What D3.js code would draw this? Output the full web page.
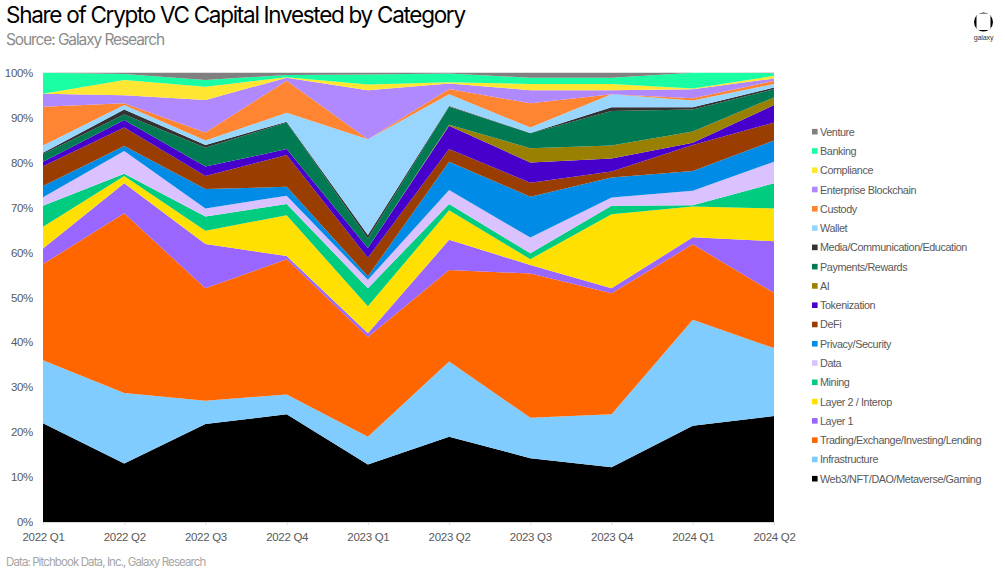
<!DOCTYPE html>
<html>
<head>
<meta charset="utf-8">
<script src="https://cdn.jsdelivr.net/npm/d3@7"></script>
<style>
	html, body { margin: 0; padding: 0; background: #fff; }
	svg { display: block; }
	text { font-family: "Liberation Sans", Arial, sans-serif; }
	.title { font-family: Inter, sans-serif; font-size: 22.5px; letter-spacing: -1.29px; fill: #000; }
	.subtitle { font-family: Inter, sans-serif; font-size: 15.5px; letter-spacing: -1.1px; fill: #8c8c8c; }
	.footnote { font-family: Inter, sans-serif; font-size: 11.5px; letter-spacing: -0.9px; fill: #a6a6a6; }
	.tick text { font-size: 11.5px; letter-spacing: -0.3px; fill: #595959; }
	.legendlabel { font-size: 10.8px; letter-spacing: -0.4px; fill: #595959; }
</style>
</head>
<body>
<div id="chart"></div>
<script>
var quarters = ["2022 Q1", "2022 Q2", "2022 Q3", "2022 Q4", "2023 Q1", "2023 Q2", "2023 Q3", "2023 Q4", "2024 Q1", "2024 Q2"];
var percentTicks = [0, 10, 20, 30, 40, 50, 60, 70, 80, 90, 100];

// share of capital per quarter
var web3 = [22, 13, 21.8, 24, 12.8, 19, 14.2, 12.2, 21.4, 23.6];
var infrastructure = [14, 15.7, 5.2, 4.4, 6.2, 16.7, 9, 11.8, 23.6, 15.1];
var trading = [21.4, 40, 25, 30.1, 22.2, 20.4, 32.1, 26.9, 16.8, 12.3];
var layer1 = [3.5, 6.7, 9.9, 0.7, 0.8, 6.7, 1.9, 1.1, 1.6, 11.5];
var layer2 = [4.8, 1.6, 2.9, 9.1, 6, 6.6, 1.3, 16.5, 6.8, 7.3];
var mining = [4.7, 0.5, 3.2, 2.5, 4, 1.4, 1.3, 1.9, 0.3, 5.6];
var dataCat = [1.9, 5.1, 1.8, 1.8, 1.9, 3.1, 3.5, 1.8, 3.2, 4.8];
var privacy = [2.5, 1.1, 4.3, 2, 0.8, 6.3, 9.1, 4.5, 4.4, 4.7];
var defi = [4.4, 4.1, 2.9, 7.1, 4.1, 2.8, 3.1, 1.3, 5.8, 4];
var tokenization = [1, 1.7, 2.1, 1.3, 2.2, 5.2, 4.5, 2.9, 0.5, 3.9];
var ai = [0, 0, 0, 0, 0, 0.2, 3.2, 2.9, 2.5, 1.7];
var payments = [1.7, 1.2, 4.2, 5.9, 2.1, 4, 3.3, 7.7, 4.9, 1.8];
var media = [0.3, 1.1, 0.6, 0.2, 0.8, 0.2, 0.1, 0.8, 0.5, 0.4];
var wallet = [1.6, 1, 1, 2, 21.3, 2.6, 1.2, 2.9, 1.5, 0.8];
var custody = [8.6, 0.4, 1.8, 7.1, 0, 1.2, 5.4, 0, 0.5, 0.7];
var enterprise = [2.9, 1.8, 7.2, 0.7, 10.9, 1.2, 2.9, 0.9, 2, 0.5];
var compliance = [0, 3.4, 3, 0.1, 1.3, 0.3, 1.4, 1.4, 0.2, 0.6];
var banking = [4.7, 1.3, 1.5, 0.5, 2.2, 1.9, 1.4, 1.4, 3.5, 0.6];
var venture = [0, 0.3, 1.6, 0.5, 0.4, 0.2, 1.1, 1.1, 0, 0.1];

// bottom of the stack first
var categories = ["Web3/NFT/DAO/Metaverse/Gaming", "Infrastructure", "Trading/Exchange/Investing/Lending", "Layer 1", "Layer 2 / Interop", "Mining", "Data", "Privacy/Security", "DeFi", "Tokenization", "AI", "Payments/Rewards", "Media/Communication/Education", "Wallet", "Custody", "Enterprise Blockchain", "Compliance", "Banking", "Venture"];
var seriesValues = [web3, infrastructure, trading, layer1, layer2, mining, dataCat, privacy, defi, tokenization, ai, payments, media, wallet, custody, enterprise, compliance, banking, venture];
var colors = ["#000000", "#80ccff", "#ff6600", "#9966ff", "#ffe000", "#00cc80", "#d9c2ff", "#008ce6", "#993d00", "#4700cc", "#998000", "#007a52", "#333333", "#99d6ff", "#ff8533", "#b088ff", "#ffe633", "#1affa3", "#808080"];

var width = 1005, height = 582;
var left = 43, right = 774, top_ = 72.7, bottom = 522;

var svg = d3.select("#chart").append("svg").attr("width", width).attr("height", height);

var rows = quarters.map(function(q, i) {
	var row = { quarter: q };
	categories.forEach(function(c, j) { row[c] = seriesValues[j][i]; });
	return row;
});

var stacked = d3.stack().keys(categories)(rows);

var x = d3.scalePoint().domain(quarters).range([left, right]);
var y = d3.scaleLinear().domain([0, 100]).range([bottom, top_]);

var area = d3.area()
	.x(function(d) { return x(d.data.quarter); })
	.y0(function(d) { return y(d[0]); })
	.y1(function(d) { return y(d[1]); });

svg.append("g").selectAll("path")
	.data(stacked)
	.join("path")
	.attr("d", area)
	.attr("fill", function(d, i) { return colors[i]; });

var yAxis = svg.append("g")
	.attr("transform", "translate(" + left + ",0)")
	.call(d3.axisLeft(y).tickValues(percentTicks).tickSize(0).tickPadding(10).tickFormat(function(d) { return d + "%"; }));
yAxis.select(".domain").remove();

var xAxis = svg.append("g")
	.attr("transform", "translate(0," + bottom + ")")
	.call(d3.axisBottom(x).tickSize(3).tickPadding(8));
xAxis.select(".domain").attr("stroke", "#d9d9d9");
xAxis.selectAll(".tick line").attr("stroke", "#d9d9d9");

// legend, top of the stack first
var legendY = d3.scalePoint().domain(categories.slice().reverse()).range([131.7, 478.7]);
var legend = svg.append("g").selectAll("g")
	.data(categories)
	.join("g")
	.attr("transform", function(d) { return "translate(812," + legendY(d) + ")"; });
legend.append("rect")
	.attr("x", 0).attr("y", -2.8).attr("width", 5.6).attr("height", 5.6)
	.attr("fill", function(d, i) { return colors[i]; });
legend.append("text")
	.attr("class", "legendlabel")
	.attr("x", 8).attr("y", 4)
	.text(function(d) { return d; });

svg.append("text").attr("class", "title").attr("x", 6).attr("y", 23).text("Share of Crypto VC Capital Invested by Category");
svg.append("text").attr("class", "subtitle").attr("x", 6).attr("y", 45).text("Source: Galaxy Research");
svg.append("text").attr("class", "footnote").attr("x", 6).attr("y", 566).text("Data: Pitchbook Data, Inc., Galaxy Research");

// galaxy logo
svg.append("circle").attr("cx", 983.5).attr("cy", 22).attr("r", 9.5).attr("fill", "#000");
svg.append("rect").attr("x", 976.5).attr("y", 13.5).attr("width", 14).attr("height", 16.5).attr("rx", 2.5).attr("fill", "#fff");
svg.append("text").attr("x", 983.5).attr("y", 40).attr("text-anchor", "middle")
	.style("font-size", "7px").style("letter-spacing", "-0.1px").style("fill", "#333").text("galaxy");
</script>
</body>
</html>
